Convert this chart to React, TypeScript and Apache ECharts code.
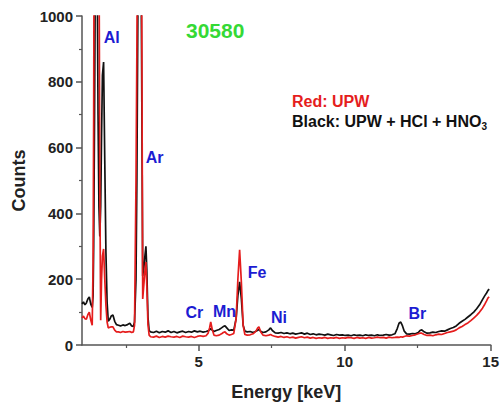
import React, { useEffect, useRef } from "react";
import * as echarts from "echarts";

// Energy grid (keV), shared by both spectra (rows of 10)
const energy = [
  1.0, 1.05, 1.1, 1.15, 1.2, 1.25, 1.3, 1.35, 1.38, 1.4,
  1.43, 1.46, 1.49, 1.52, 1.55, 1.58, 1.61, 1.64, 1.67, 1.7,
  1.74, 1.78, 1.82, 1.86, 1.9, 1.95, 2.0, 2.06, 2.12, 2.18,
  2.25, 2.32, 2.4, 2.48, 2.56, 2.64, 2.7, 2.76, 2.8, 2.85,
  2.88, 2.92, 2.96, 3.0, 3.04, 3.08, 3.12, 3.16, 3.19, 3.22,
  3.26, 3.3, 3.35, 3.45, 3.55, 3.65, 3.75, 3.85, 3.95, 4.05,
  4.15, 4.25, 4.35, 4.45, 4.55, 4.65, 4.75, 4.85, 4.95, 5.05,
  5.15, 5.25, 5.32, 5.37, 5.41, 5.46, 5.52, 5.6, 5.7, 5.78,
  5.84, 5.9, 5.96, 6.04, 6.12, 6.2, 6.28, 6.34, 6.4, 6.46,
  6.52, 6.58, 6.66, 6.76, 6.86, 6.96, 7.02, 7.06, 7.12, 7.2,
  7.3, 7.4, 7.46, 7.52, 7.62, 7.72, 7.82, 7.92, 8.02, 8.12,
  8.22, 8.32, 8.42, 8.52, 8.62, 8.72, 8.82, 8.92, 9.02, 9.12,
  9.22, 9.32, 9.42, 9.52, 9.62, 9.72, 9.82, 9.92, 10.02, 10.12,
  10.22, 10.32, 10.42, 10.52, 10.62, 10.72, 10.82, 10.92, 11.02, 11.12,
  11.22, 11.32, 11.42, 11.52, 11.62, 11.72, 11.8, 11.86, 11.92, 11.98,
  12.04, 12.12, 12.22, 12.32, 12.42, 12.52, 12.58, 12.64, 12.72, 12.82,
  12.92, 13.02, 13.12, 13.22, 13.32, 13.42, 13.52, 13.62, 13.72, 13.82,
  13.92, 14.02, 14.12, 14.22, 14.32, 14.42, 14.52, 14.62, 14.72, 14.8,
  14.86, 14.91, 14.95,
];

// Black: UPW + HCl + HNO3
const blackCounts = [
  125, 131, 122, 128, 140, 146, 124, 114, 150, 300,
  700, 1200, 1450, 1150, 700, 420, 330, 420, 640, 820,
  860, 560, 280, 130, 72, 78, 88, 91, 72, 62,
  60, 58, 61, 59, 62, 66, 58, 56, 70, 200,
  500, 1100, 1600, 1500, 900, 210, 235, 275, 300, 230,
  85, 44, 40, 38, 42, 37, 41, 39, 43, 38,
  41, 37, 40, 42, 38, 41, 39, 43, 40, 42,
  39, 41, 43, 46, 50, 45, 41, 44, 47, 52,
  56, 58, 52, 44, 46, 45, 80, 150, 192, 140,
  60, 42, 40, 41, 38, 42, 45, 47, 42, 38,
  40, 46, 52, 44, 37, 36, 38, 35, 37, 34,
  36, 33, 35, 37, 33, 36, 32, 34, 31, 33,
  32, 30, 33, 31, 29, 32, 30, 31, 29, 30,
  28, 31, 29, 30, 28, 31, 29, 30, 28, 31,
  29, 30, 32, 30, 31, 34, 50, 66, 70, 58,
  42, 34, 33, 35, 34, 38, 44, 46, 40, 36,
  37, 39, 38, 41, 43, 42, 46, 50, 53, 58,
  66, 72, 78, 85, 92, 100, 110, 122, 138, 150,
  158, 166, 170,
];

// Red: UPW
const redCounts = [
  82, 88, 80, 78, 92, 100, 76, 60, 250, 700,
  1800, 2400, 2600, 2300, 1900, 1300, 500, 75, 200, 270,
  292, 200, 120, 70, 52, 54, 55, 55, 45, 40,
  40, 38, 41, 39, 40, 41, 38, 40, 60, 500,
  900, 1600, 2600, 2600, 1200, 140, 185, 230, 252, 180,
  62, 30, 25, 24, 27, 23, 26, 24, 27, 25,
  24, 26, 23, 27, 25, 24, 26, 23, 26, 28,
  26, 28, 36, 52, 70, 48, 30, 28, 30, 34,
  38, 40, 34, 30, 32, 35, 80, 200, 289, 190,
  60, 32, 30, 31, 34, 42, 52, 55, 40, 30,
  28, 30, 32, 29, 26, 24, 26, 23, 25, 22,
  24, 21, 23, 25, 22, 24, 21, 23, 20, 22,
  21, 23, 20, 22, 21, 23, 20, 22, 21, 23,
  22, 20, 23, 21, 22, 20, 23, 21, 22, 24,
  22, 23, 21, 24, 22, 23, 24, 23, 25, 24,
  26, 28, 27, 29, 31, 34, 36, 36, 32, 29,
  30, 28, 31, 33, 32, 35, 38, 40, 42, 46,
  52, 56, 62, 67, 74, 82, 90, 100, 112, 124,
  134, 143, 146,
];

// Element labels, placed in data coordinates
const peakNames = ["Al", "Ar", "Cr", "Mn", "Fe", "Ni", "Br"];
const peakLabelEnergy = [2.02, 3.49, 4.85, 5.88, 7.0, 7.75, 12.49];
const peakLabelCounts = [936, 571, 100, 103, 219, 85, 97];

const xMajorTicks = [5, 10, 15];
const xMinorTicks = [2.5, 7.5, 12.5];

const FONT = "Arial, 'Liberation Sans', Helvetica, sans-serif";
const BLUE = "#1c1cd2";

export default function App() {
  const ref = useRef<HTMLDivElement>(null);
  useEffect(() => {
    document.body.style.margin = "0";
    if (!ref.current) return;
    const chart = echarts.init(ref.current, null, { renderer: "svg" });
    const black = energy.map((e, i) => [e, blackCounts[i]]);
    const red = energy.map((e, i) => [e, redCounts[i]]);
    const peaks = peakNames.map((n, i) => ({
      name: n,
      value: [peakLabelEnergy[i], peakLabelCounts[i]],
    }));
    const axisColor = "#555";
    chart.setOption({
      animation: false,
      backgroundColor: "#fff",
      grid: { left: 82, right: 11, top: 16, bottom: 62, containLabel: false },
      xAxis: [
        {
          type: "value",
          min: 1,
          max: 15,
          name: "Energy [keV]",
          nameLocation: "middle",
          nameGap: 38,
          nameTextStyle: { fontFamily: FONT, fontWeight: "bold", fontSize: 18, color: "#222" },
          axisLine: { show: true, lineStyle: { color: axisColor, width: 1.5 } },
          axisTick: { show: true, length: 6, customValues: xMajorTicks, lineStyle: { color: axisColor, width: 1.5 } },
          axisLabel: { customValues: xMajorTicks, fontFamily: FONT, fontWeight: "bold", fontSize: 15, color: "#222", margin: 9 },
          splitLine: { show: false },
        },
        {
          type: "value",
          min: 1,
          max: 15,
          position: "bottom",
          axisLine: { show: false },
          axisTick: { show: true, length: 3, customValues: xMinorTicks, lineStyle: { color: axisColor, width: 1.2 } },
          axisLabel: { show: false, customValues: xMinorTicks },
          splitLine: { show: false },
        },
      ],
      yAxis: {
        type: "value",
        min: 0,
        max: 1000,
        interval: 200,
        name: "Counts",
        nameLocation: "middle",
        nameGap: 54,
        nameTextStyle: { fontFamily: FONT, fontWeight: "bold", fontSize: 18, color: "#222" },
        axisLine: { show: true, lineStyle: { color: axisColor, width: 1.5 } },
        axisTick: { show: true, length: 6, lineStyle: { color: axisColor, width: 1.5 } },
        minorTick: { show: true, splitNumber: 2, length: 3, lineStyle: { color: axisColor, width: 1.2 } },
        axisLabel: {
          fontFamily: FONT,
          fontWeight: "bold",
          fontSize: 15,
          color: "#222",
          margin: 9,
          formatter: (v: number) => String(v),
        },
        splitLine: { show: false },
      },
      series: [
        {
          type: "line",
          data: black,
          symbol: "none",
          clip: true,
          lineStyle: { color: "#111", width: 1.7 },
          z: 2,
        },
        {
          type: "line",
          data: red,
          symbol: "none",
          clip: true,
          lineStyle: { color: "#e51d1d", width: 1.7 },
          z: 3,
        },
        {
          type: "scatter",
          data: peaks,
          symbolSize: 0,
          itemStyle: { color: BLUE, opacity: 1 },
          silent: true,
          z: 5,
          label: {
            show: true,
            position: [0, 0],
            align: "center",
            verticalAlign: "middle",
            formatter: "{b}",
            fontFamily: FONT,
            fontWeight: "bold",
            fontSize: 16,
            color: BLUE,
            opacity: 1,
            textBorderWidth: 0,
          },
        },
      ],
      graphic: [
        {
          type: "text",
          left: 186,
          top: 20,
          style: { text: "30580", font: `bold 21px ${FONT}`, fill: "#35d935" },
        },
        {
          type: "text",
          left: 292,
          top: 93,
          style: { text: "Red: UPW", font: `bold 16px ${FONT}`, fill: "#e51d1d" },
        },
        {
          type: "text",
          left: 292,
          top: 113,
          style: {
            text: "{m|Black: UPW + HCl + HNO}{s|3}",
            rich: {
              m: { font: `bold 16px ${FONT}`, fill: "#111", color: "#111" },
              s: { font: `bold 10px ${FONT}`, fill: "#111", color: "#111", padding: [10, 0, 0, 0] },
            },
          },
        },
      ],
    });
    return () => chart.dispose();
  }, []);
  return <div ref={ref} style={{ width: 502, height: 407 }} />;
}
